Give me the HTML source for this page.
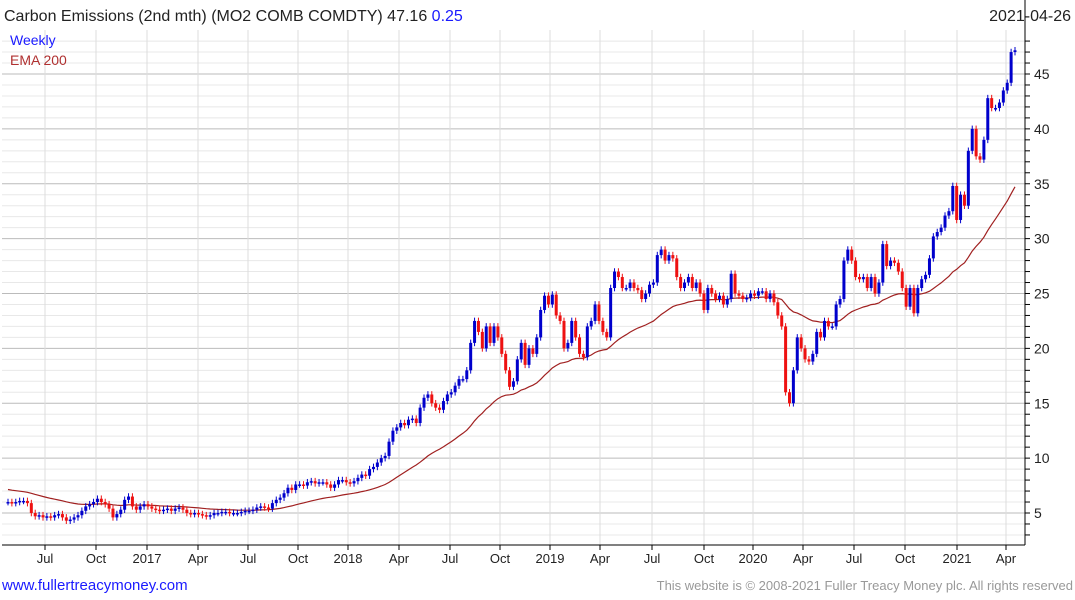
<!DOCTYPE html>
<html><head><meta charset="utf-8">
<style>
body{margin:0;background:#fff;width:1075px;height:600px;overflow:hidden;font-family:"Liberation Sans","DejaVu Sans",sans-serif;}
svg{position:absolute;left:0;top:0;}
</style></head>
<body>
<svg id="chart" width="1075" height="600"></svg>
<script>
const closes=[6.0,5.9,6.0,6.1,6.1,5.9,5.0,4.7,4.8,4.6,
4.7,4.6,4.8,4.9,4.6,4.3,4.4,4.6,4.8,5.2,5.6,5.8,6.0,
6.3,6.0,5.8,5.4,4.6,4.9,5.3,6.2,6.5,5.6,5.3,5.6,5.8,
5.6,5.4,5.3,5.2,5.3,5.4,5.2,5.4,5.5,5.3,5.0,4.9,5.0,
4.9,4.8,4.7,4.8,5.0,5.0,5.1,5.1,5.0,5.0,5.0,5.1,5.2,
5.2,5.3,5.5,5.6,5.5,5.4,5.9,6.2,6.4,6.8,7.3,7.1,7.6,
7.6,7.5,7.8,7.9,7.7,7.8,7.8,7.6,7.3,7.6,8.0,8.0,7.8,
7.7,7.9,8.2,8.5,8.4,9.0,9.2,9.6,10.0,10.2,11.5,12.5,12.8,
13.2,13.0,13.5,13.6,13.2,14.6,15.5,15.8,15.0,14.6,14.4,15.2,15.8,
16.0,16.6,17.2,17.2,18.0,20.5,22.5,21.5,20.0,22.0,20.5,22.0,21.0,
19.5,18.0,16.5,17.0,19.0,20.5,18.5,20.0,19.5,21.0,23.5,24.8,24.0,
24.9,23.0,22.5,20.0,20.5,22.5,21.0,19.5,19.2,22.0,22.5,24.0,22.5,
21.5,21.0,25.5,27.0,26.5,25.5,25.5,26.0,25.5,25.3,24.5,25.0,25.8,
26.0,28.5,29.0,28.0,28.5,28.2,26.5,25.5,26.0,26.5,25.5,26.0,25.0,
23.5,25.5,25.0,24.5,24.8,24.0,24.5,26.8,25.0,24.8,24.5,24.6,25.0,
24.8,25.2,25.2,24.5,25.0,24.2,23.0,22.0,16.0,15.0,18.0,21.0,20.0,
19.0,18.8,19.5,21.5,21.0,22.5,22.0,22.0,24.0,24.5,28.0,29.0,28.0,
26.5,26.3,26.5,25.5,26.5,25.0,26.0,29.5,27.5,28.0,27.8,27.0,25.5,
23.8,25.5,23.2,25.5,26.3,26.7,28.2,30.2,30.6,31.0,32.1,32.5,
34.8,31.7,34.0,33.0,38.0,40.0,37.5,37.2,39.0,42.8,41.9,41.9,42.4,43.5,44.2,47.0,47.16];
const yTicks=[5,10,15,20,25,30,35,40,45];
const xLabels=["Jul","Oct","2017","Apr","Jul","Oct","2018","Apr","Jul","Oct","2019","Apr","Jul","Oct","2020","Apr","Jul","Oct","2021","Apr"];
const xLabelPos=[45,96,147,198,248,298,348,399,450,500,550,600,652,704,753,803,854,905,957,1006];
const emaSeed=7.2, emaPeriod=40;

const NS="http://www.w3.org/2000/svg";
const svg=document.getElementById('chart');
function el(t,a,p){const e=document.createElementNS(NS,t);for(const k in a)e.setAttribute(k,a[k]);(p||svg).appendChild(e);return e;}
const L=2,R=1025,T=30,B=545;
const y=v=>513-(v-5)*10.975;
const n=closes.length,x0=8,x1=1015;
const x=i=>x0+i*(x1-x0)/(n-1);

// grid
for(let v=3;v<=48;v++){const yy=y(v);if(yy<T||yy>B)continue;
 const g=el('line',{x1:L,x2:R,y1:yy,y2:yy,stroke:v%5==0?'#bbb':'#e8e8e8','stroke-width':1});
 
 el('line',{x1:R,x2:R+5,y1:yy,y2:yy,stroke:'#000','stroke-width':1});}
xLabelPos.forEach((px,i)=>{const g=el('line',{x1:px,x2:px,y1:T,y2:B,stroke:'#ddd','stroke-width':1});
 
 el('line',{x1:px,x2:px,y1:B,y2:B+5,stroke:'#000'});
 const t=el('text',{x:px,y:563,'text-anchor':'middle','font-size':13,fill:'#222'});t.textContent=xLabels[i];
 });
el('line',{x1:R,x2:R,y1:0,y2:B,stroke:'#000'});
el('line',{x1:L,x2:R,y1:B,y2:B,stroke:'#000'});
yTicks.forEach(v=>{const t=el('text',{x:1034,y:y(v)+5,'font-size':14,fill:'#222'});t.textContent=v;
 });

// EMA
let e=emaSeed,pts=[];const a=2/(emaPeriod+1);
closes.forEach((c,i)=>{e=e+a*(c-e);pts.push(x(i).toFixed(1)+','+y(e).toFixed(1));});
const ema=el('polyline',{points:pts.join(' '),fill:'none',stroke:'#a02020','stroke-width':1.2});


// candles
closes.forEach((c,i)=>{const o=i?closes[i-1]:c;const up=c>=o;const col=up?'#0000cc':'#ee1111';
 const hi=Math.max(o,c)+0.3,lo=Math.min(o,c)-0.3;const cx=x(i);
 const g=el('g',{});
 el('line',{x1:cx,x2:cx,y1:y(hi),y2:y(lo),stroke:col,'stroke-width':1},g);
 const top=y(Math.max(o,c)),h=Math.max(1.5,y(Math.min(o,c))-top);
 el('rect',{x:cx-1.5,y:top,width:3,height:h,fill:col},g);});

function txt(s,a,name){const t=el('text',a);t.textContent=s;return t;}
const tt=txt('Carbon Emissions (2nd mth) (MO2 COMB COMDTY) 47.16 ',{x:4,y:21,'font-size':16,fill:'#222'},'chart-title');
const ch=document.createElementNS(NS,'tspan');ch.setAttribute('fill','#1a1aff');ch.textContent='0.25';tt.appendChild(ch);
txt('2021-04-26',{x:1071,y:21,'font-size':16,fill:'#222','text-anchor':'end'},'chart-date');
txt('Weekly',{x:10,y:45,'font-size':14,fill:'#1a1aff'},'legend-weekly');
txt('EMA 200',{x:10,y:65,'font-size':14,fill:'#b03030'},'legend-ema-200');
const lk=txt('www.fullertreacymoney.com',{x:2,y:590,'font-size':15,fill:'#1a1aff'},'website-link');
txt('This website is © 2008-2021 Fuller Treacy Money plc. All rights reserved',{x:1073,y:590,'font-size':13,fill:'#999','text-anchor':'end'},'copyright-notice');
</script>
</body></html>
